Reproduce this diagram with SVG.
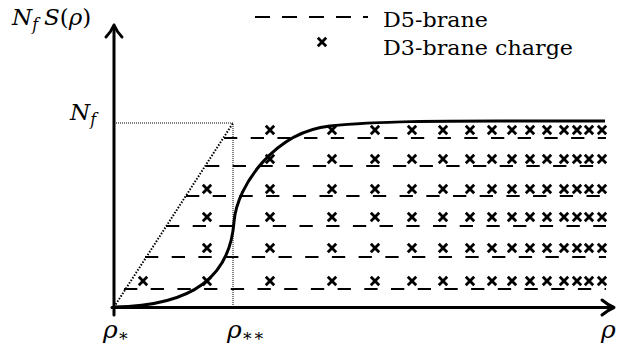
<svg xmlns="http://www.w3.org/2000/svg" width="618" height="348" viewBox="0 0 618 348">
<style>
.ax{stroke:#000;stroke-width:3;fill:none;stroke-linecap:round;stroke-linejoin:round}
.thin{stroke:#000;stroke-width:1;fill:none;stroke-dasharray:1 1}
.diag{stroke:#000;stroke-width:2;fill:none;stroke-dasharray:1.5 1.6}
.dash{stroke:#000;stroke-width:2.2;fill:none;stroke-dasharray:13.3 13.4}
.curve{stroke:#000;stroke-width:3;fill:none}
.cx{stroke:#000;stroke-width:2.8;fill:none}
text{fill:#000}
.math{font-style:italic}
</style>
<defs>
<path id="x" class="cx" d="M-4.2,-4.2L4.2,4.2M-4.2,4.2L4.2,-4.2"/>
</defs>
<rect width="618" height="348" fill="#fff"/>
<g id="guides">
<path class="thin" d="M116,123H233V307"/>
<path class="diag" d="M114,307L233,123"/>
</g>
<g id="d5-branes">
<path class="dash" d="M224,138H606"/>
<path class="dash" d="M206,166H606"/>
<path class="dash" d="M186,196H606"/>
<path class="dash" d="M166,226H606"/>
<path class="dash" d="M145,257H606"/>
<path class="dash" d="M124,289H606"/>
</g>
<g id="d3-charges">
<g transform="translate(0,130)">
<use href="#x" x="270"/><use href="#x" x="332"/><use href="#x" x="375"/><use href="#x" x="412"/><use href="#x" x="443"/><use href="#x" x="470"/><use href="#x" x="492"/><use href="#x" x="512"/><use href="#x" x="530"/><use href="#x" x="547"/><use href="#x" x="564"/><use href="#x" x="577"/><use href="#x" x="589"/><use href="#x" x="602"/>
</g>
<g transform="translate(0,159)">
<use href="#x" x="270"/><use href="#x" x="332"/><use href="#x" x="375"/><use href="#x" x="412"/><use href="#x" x="443"/><use href="#x" x="470"/><use href="#x" x="492"/><use href="#x" x="512"/><use href="#x" x="530"/><use href="#x" x="547"/><use href="#x" x="564"/><use href="#x" x="577"/><use href="#x" x="589"/><use href="#x" x="602"/>
</g>
<g transform="translate(0,189)">
<use href="#x" x="207"/><use href="#x" x="270"/><use href="#x" x="332"/><use href="#x" x="375"/><use href="#x" x="412"/><use href="#x" x="443"/><use href="#x" x="470"/><use href="#x" x="492"/><use href="#x" x="512"/><use href="#x" x="530"/><use href="#x" x="547"/><use href="#x" x="564"/><use href="#x" x="577"/><use href="#x" x="589"/><use href="#x" x="602"/>
</g>
<g transform="translate(0,217)">
<use href="#x" x="207"/><use href="#x" x="270"/><use href="#x" x="332"/><use href="#x" x="375"/><use href="#x" x="412"/><use href="#x" x="443"/><use href="#x" x="470"/><use href="#x" x="492"/><use href="#x" x="512"/><use href="#x" x="530"/><use href="#x" x="547"/><use href="#x" x="564"/><use href="#x" x="577"/><use href="#x" x="589"/><use href="#x" x="602"/>
</g>
<g transform="translate(0,248)">
<use href="#x" x="207"/><use href="#x" x="270"/><use href="#x" x="332"/><use href="#x" x="375"/><use href="#x" x="412"/><use href="#x" x="443"/><use href="#x" x="470"/><use href="#x" x="492"/><use href="#x" x="512"/><use href="#x" x="530"/><use href="#x" x="547"/><use href="#x" x="564"/><use href="#x" x="577"/><use href="#x" x="589"/><use href="#x" x="602"/>
</g>
<g transform="translate(0,281)">
<use href="#x" x="143"/><use href="#x" x="207"/><use href="#x" x="270"/><use href="#x" x="332"/><use href="#x" x="375"/><use href="#x" x="412"/><use href="#x" x="443"/><use href="#x" x="470"/><use href="#x" x="492"/><use href="#x" x="512"/><use href="#x" x="530"/><use href="#x" x="547"/><use href="#x" x="564"/><use href="#x" x="577"/><use href="#x" x="589"/><use href="#x" x="602"/>
</g>
</g>
<g id="curve">
<path class="curve" d="M114,307C195,306 230,275 234,222C237,185 275,132 330,126C380,121 440,121 500,121L605,121"/>
</g>
<g id="axes">
<path class="ax" d="M114,315V27"/>
<path class="ax" d="M106,37Q111,32 114,25Q117,32 122,37"/>
<path class="ax" d="M112,307.5H612"/>
<path class="ax" d="M602,300Q608,305 614,307.5Q608,310 602,315"/>
</g>
<g id="labels" font-family="DejaVu Serif">
<text class="math" x="12" y="25" font-size="23">N<tspan font-size="16" dy="5">f</tspan><tspan dy="-5" dx="6">S</tspan><tspan font-style="normal">(</tspan>ρ<tspan font-style="normal">)</tspan></text>
<text class="math" x="70" y="120" font-size="23">N<tspan font-size="16" dy="5">f</tspan></text>
<text class="math" x="103" y="338" font-size="25">ρ<tspan font-style="normal" font-size="17" dy="3">∗</tspan></text>
<text class="math" x="227" y="338" font-size="25">ρ<tspan font-style="normal" font-size="17" dy="3">∗∗</tspan></text>
<text class="math" x="601" y="338" font-size="25">ρ</text>
</g>
<g id="legend" font-family="DejaVu Serif" font-size="20">
<path d="M255,17H368" stroke="#000" stroke-width="2.2" stroke-dasharray="15 12" fill="none"/>
<text x="383" y="27" textLength="105" lengthAdjust="spacingAndGlyphs">D5-brane</text>
<use href="#x" x="322" y="42"/>
<text x="383" y="55" textLength="190" lengthAdjust="spacingAndGlyphs">D3-brane charge</text>
</g>
</svg>
